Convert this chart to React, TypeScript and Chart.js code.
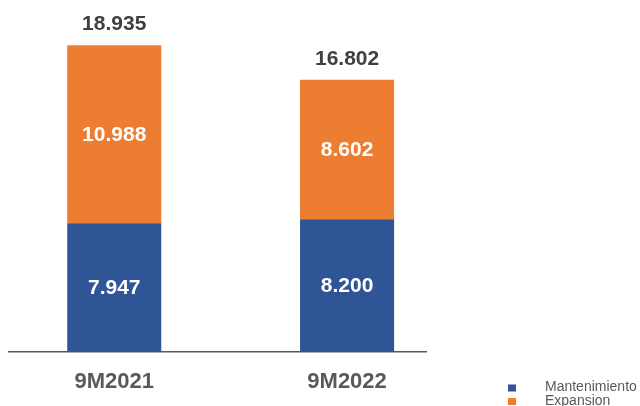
import React, { useEffect, useRef } from "react";
import { Chart, registerables } from "chart.js";

Chart.register(...registerables);

const categories = ["9M2021", "9M2022"];
const mantenimiento = [7.947, 8.2];
const expansion = [10.988, 8.602];
const seriesNames = ["Mantenimiento", "Expansion"];
const seriesColors = ["#2F5597", "#ED7D31"];

const FONT = "'Liberation Sans', Arial, sans-serif";

const fmt = (v: number) => v.toFixed(3);

const labelsPlugin = {
  id: "valueLabels",
  afterDatasetsDraw(chart: any) {
    const ctx = chart.ctx;
    ctx.save();
    ctx.textAlign = "center";
    ctx.textBaseline = "middle";
    ctx.font = `bold 21px ${FONT}`;
    ctx.fillStyle = "#ffffff";
    chart.data.datasets.forEach((ds: any, di: number) => {
      const meta = chart.getDatasetMeta(di);
      meta.data.forEach((el: any, i: number) => {
        const v = ds.data[i].y;
        ctx.fillText(fmt(v), el.x, (el.y + el.base) / 2 + 1);
      });
    });
    const lastMeta = chart.getDatasetMeta(chart.data.datasets.length - 1);
    ctx.fillStyle = "#404040";
    ctx.textBaseline = "alphabetic";
    lastMeta.data.forEach((el: any, i: number) => {
      const total = mantenimiento[i] + expansion[i];
      ctx.fillText(fmt(total), el.x, el.y - 15);
    });
    ctx.restore();
  },
};

const legendPlugin = {
  id: "customLegend",
  afterDraw(chart: any) {
    const ctx = chart.ctx;
    ctx.save();
    ctx.font = `14px ${FONT}`;
    ctx.textAlign = "left";
    ctx.textBaseline = "alphabetic";
    chart.data.datasets.forEach((ds: any, i: number) => {
      const sy = 384.5 + i * 13.5;
      ctx.fillStyle = ds.backgroundColor;
      ctx.fillRect(508, sy, 8, 7);
      ctx.fillStyle = "#595959";
      ctx.fillText(ds.label, 545, 391.3 + i * 13.3);
    });
    ctx.restore();
  },
};

export default function App() {
  const ref = useRef<HTMLCanvasElement | null>(null);

  useEffect(() => {
    if (!ref.current) return;
    const chart = new Chart(ref.current, {
      type: "bar",
      data: {
        datasets: [
          {
            label: seriesNames[0],
            data: mantenimiento.map((v, i) => ({ x: i + 1, y: v })),
            backgroundColor: seriesColors[0],
            categoryPercentage: 1,
            barPercentage: 0.404,
          },
          {
            label: seriesNames[1],
            data: expansion.map((v, i) => ({ x: i + 1, y: v })),
            backgroundColor: seriesColors[1],
            categoryPercentage: 1,
            barPercentage: 0.404,
          },
        ],
      },
      options: {
        responsive: false,
        animation: false,
        layout: { padding: { top: 28, left: 9, right: 214, bottom: -6.4 } },
        plugins: {
          legend: { display: false },
          tooltip: { enabled: false },
        },
        scales: {
          x: {
            type: "linear",
            stacked: true,
            offset: false,
            min: 0.548,
            max: 2.339,
            afterBuildTicks: (scale: any) => {
              scale.ticks = categories.map((_, i) => ({ value: i + 1 }));
            },
            grid: { display: false, drawTicks: false, offset: false },
            border: { display: true, color: "#595959", width: 1.5 },
            ticks: {
              padding: 17,
              color: "#595959",
              font: { family: FONT, size: 22, weight: "bold" },
              callback: (v: any) => categories[Math.round(Number(v)) - 1] ?? "",
              maxRotation: 0,
              autoSkip: false,
            },
          },
          y: {
            stacked: true,
            display: false,
            min: 0,
            max: 20,
          },
        },
      },
      plugins: [labelsPlugin, legendPlugin],
    } as any);
    return () => chart.destroy();
  }, []);

  return (
    <div style={{ position: "absolute", left: 0, top: 0, width: 640, height: 406 }}>
      <canvas ref={ref} width={640} height={406} style={{ display: "block" }} />
    </div>
  );
}
